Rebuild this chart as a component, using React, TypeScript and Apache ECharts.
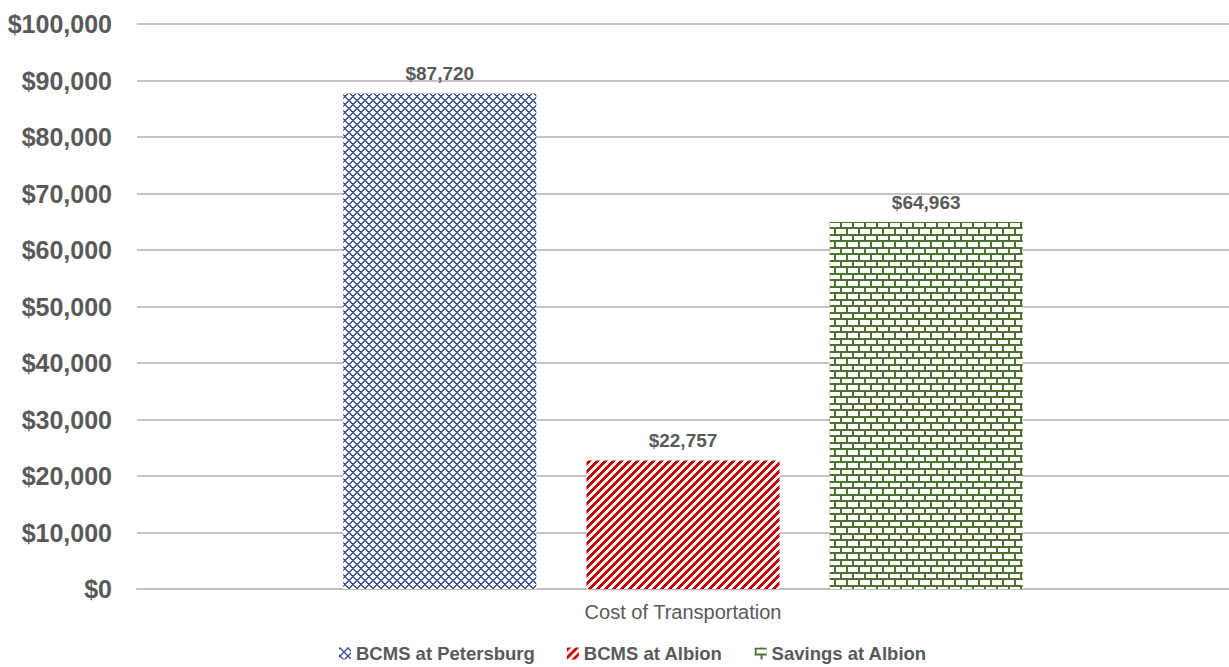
import React, { useEffect, useRef } from "react";
import * as echarts from "echarts";

const categories = ["Cost of Transportation"];
const seriesNames = ["BCMS at Petersburg", "BCMS at Albion", "Savings at Albion"];
const seriesValues = [[87720], [22757], [64963]];
const yTicks = { min: 0, max: 100000, interval: 10000 };

const FONT = "'Liberation Sans', Arial, sans-serif";
const TEXT = "#595959";

function makeTile(w: number, h: number, color: string, test: (x: number, y: number) => boolean) {
  const c = document.createElement("canvas");
  c.width = w;
  c.height = h;
  const ctx = c.getContext("2d")!;
  ctx.fillStyle = "#ffffff";
  ctx.fillRect(0, 0, w, h);
  ctx.fillStyle = color;
  for (let y = 0; y < h; y++) {
    for (let x = 0; x < w; x++) {
      if (test(x, y)) ctx.fillRect(x, y, 1, 1);
    }
  }
  return { image: c.toDataURL(), repeat: "repeat", imageWidth: w, imageHeight: h };
}

export default function App() {
  const ref = useRef<HTMLDivElement>(null);
  useEffect(() => {
    document.body.style.margin = "0";
    document.body.style.overflow = "hidden";
    if (!ref.current) return;
    const chart = echarts.init(ref.current, null, { renderer: "svg" });

    const diamond = makeTile(8, 8, "#3E5797", (x, y) => {
      const a = (x + y) % 8;
      const b = (x - y + 16) % 8;
      return a === 0 || a === 1 || b === 0 || b === 1;
    });
    const stripes = makeTile(8, 8, "#C80000", (x, y) => (x + y) % 8 < 4);
    const brick = makeTile(12, 13, "#4E7030", (x, y) => {
      if (y === 0 || y === 1 || y === 6 || y === 7) return true;
      if (y < 6) return x === 0 || x === 1;
      return x === 6 || x === 7;
    });
    const patterns = [diamond, stripes, brick];

    chart.setOption({
      animation: false,
      backgroundColor: "#ffffff",
      grid: { left: 137, width: 1105, top: 24, bottom: 78, containLabel: false },
      legend: {
        bottom: 4,
        left: 339,
        padding: 0,
        icon: "rect",
        itemWidth: 12,
        itemHeight: 12,
        itemGap: 32,
        textStyle: { color: TEXT, fontFamily: FONT, fontSize: 18.5, fontWeight: "bold" },
        data: seriesNames,
      },
      xAxis: {
        type: "category",
        data: categories,
        axisTick: { show: false },
        axisLine: { lineStyle: { color: "#BFBFBF", width: 2 } },
        axisLabel: { color: TEXT, fontFamily: FONT, fontSize: 20, margin: 13 },
      },
      yAxis: {
        type: "value",
        min: yTicks.min,
        max: yTicks.max,
        interval: yTicks.interval,
        axisLine: { show: false },
        axisTick: { show: false },
        splitLine: { lineStyle: { color: "#C4C4C4", width: 2 } },
        axisLabel: {
          color: TEXT,
          fontFamily: FONT,
          fontSize: 25,
          fontWeight: "bold",
          margin: 25,
          formatter: (v: number) => "$" + v.toLocaleString("en-US"),
        },
      },
      series: seriesNames.map((name, i) => ({
        name,
        type: "bar",
        data: seriesValues[i],
        barWidth: 193,
        barGap: "26%",
        itemStyle: { color: patterns[i] },
        label: {
          show: true,
          position: "top",
          distance: 10,
          color: TEXT,
          fontFamily: FONT,
          fontSize: 19,
          fontWeight: "bold",
          formatter: (p: any) => "$" + Number(p.value).toLocaleString("en-US"),
        },
      })),
    });
    return () => chart.dispose();
  }, []);
  return <div ref={ref} style={{ width: 1229, height: 667 }} />;
}
